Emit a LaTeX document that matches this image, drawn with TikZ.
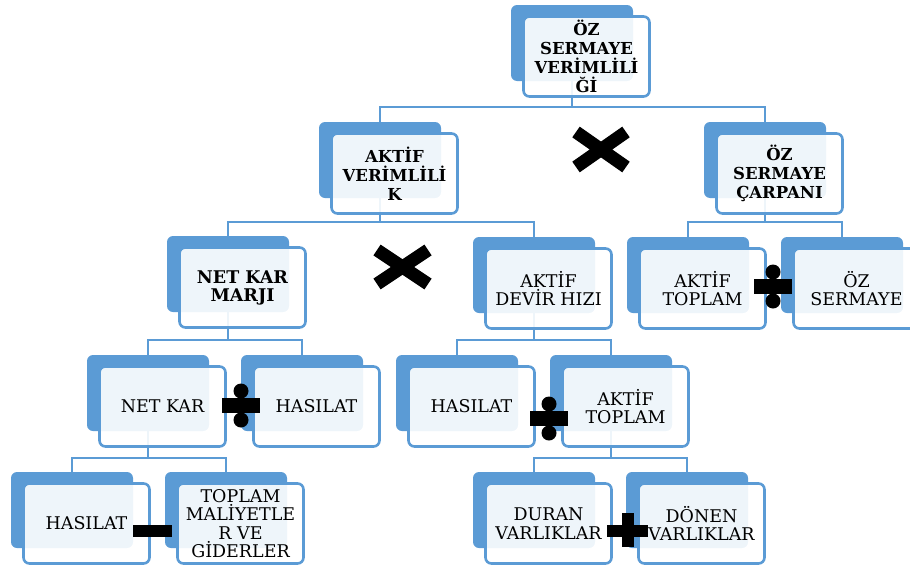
\documentclass[tikz,border=0pt]{standalone}
\usepackage{fontspec}
\setmainfont{DejaVu Serif}
\usetikzlibrary{backgrounds}
\definecolor{accent}{HTML}{5B9BD5}
\tikzset{
  backbox/.style={rectangle, rounded corners=6pt, fill=accent, minimum width=122pt, minimum height=76pt, inner sep=0pt},
  frontbox/.style={rectangle, rounded corners=6pt, draw=accent, line width=2.6pt, fill=white, fill opacity=0.9, text opacity=1, minimum width=126pt, minimum height=80pt, inner sep=0pt, align=center, text=black, xshift=14.5pt, yshift=-13.5pt, font=\fontsize{17.5}{18.5}\selectfont},
  boldsmall/.style={font=\fontsize{16.5}{19}\selectfont\bfseries},
  boldbig/.style={font=\fontsize{17.5}{18}\selectfont\bfseries},
  conn/.style={draw=accent, line width=2.6pt},
  xsign/.style={draw=black, line width=13pt},
}
\newcommand{\divsign}[2]{%
  \fill[black] (#1-19,#2-7.5) rectangle (#1+19,#2+7.5);
  \fill[black] (#1,#2-14.5) circle[radius=7.5pt];
  \fill[black] (#1,#2+14.5) circle[radius=7.5pt];
}
\begin{document}
\begin{tikzpicture}[x=1pt,y=-1pt]
\useasboundingbox (0,0) rectangle (910,565);
% level 0
\node[backbox] (t) at (572,43) {};
\node[frontbox, boldsmall] (tf) at (t) {ÖZ\\SERMAYE\\VERİMLİLİ\\Ğİ};
% level 1
\node[backbox] (av) at (380,160) {};
\node[frontbox, boldsmall] (avf) at (av) {AKTİF\\VERİMLİLİ\\K};
\node[backbox] (oc) at (765,160) {};
\node[frontbox, boldsmall] (ocf) at (oc) {ÖZ\\SERMAYE\\ÇARPANI};
% level 2
\node[backbox] (nkm) at (228,274) {};
\node[frontbox, boldbig] (nkmf) at (nkm) {NET KAR\\MARJI};
\node[backbox] (adh) at (534,275) {};
\node[frontbox] (adhf) at (adh) {AKTİF\\DEVİR HIZI};
\node[backbox] (at1) at (688,275) {};
\node[frontbox] (at1f) at (at1) {AKTİF\\TOPLAM};
\node[backbox] (oz) at (842,275) {};
\node[frontbox] (ozf) at (oz) {ÖZ\\SERMAYE};
% level 3
\node[backbox] (nk) at (148,393) {};
\node[frontbox] (nkf) at (nk) {NET KAR};
\node[backbox] (h1) at (302,393) {};
\node[frontbox] (h1f) at (h1) {HASILAT};
\node[backbox] (h2) at (457,393) {};
\node[frontbox] (h2f) at (h2) {HASILAT};
\node[backbox] (at2) at (611,393) {};
\node[frontbox] (at2f) at (at2) {AKTİF\\TOPLAM};
% level 4
\node[backbox] (h3) at (72,510) {};
\node[frontbox] (h3f) at (h3) {HASILAT};
\node[backbox] (tm) at (226,510) {};
\node[frontbox] (tmf) at (tm) {TOPLAM\\MALİYETLE\\R VE\\GİDERLER};
\node[backbox] (dv) at (534,510) {};
\node[frontbox] (dvf) at (dv) {DURAN\\VARLIKLAR};
\node[backbox] (dn) at (687,510) {};
\node[frontbox] (dnf) at (dn) {DÖNEN\\VARLIKLAR};
% bus levels
\coordinate (b0) at (0,107);
\coordinate (b1) at (0,222);
\coordinate (b2) at (0,340);
\coordinate (b3) at (0,458);
\begin{scope}[on background layer]
\draw[conn] (t.center) -- (t.center|-b0) -| (av.center);
\draw[conn] (t.center|-b0) -| (oc.center);
\draw[conn] (av.center) -- (av.center|-b1) -| (nkm.center);
\draw[conn] (av.center|-b1) -| (adh.center);
\draw[conn] (oc.center) -- (oc.center|-b1) -| (at1.center);
\draw[conn] (oc.center|-b1) -| (oz.center);
\draw[conn] (nkm.center) -- (nkm.center|-b2) -| (nk.center);
\draw[conn] (nkm.center|-b2) -| (h1.center);
\draw[conn] (adh.center) -- (adh.center|-b2) -| (h2.center);
\draw[conn] (adh.center|-b2) -| (at2.center);
\draw[conn] (nk.center) -- (nk.center|-b3) -| (h3.center);
\draw[conn] (nk.center|-b3) -| (tm.center);
\draw[conn] (at2.center) -- (at2.center|-b3) -| (dv.center);
\draw[conn] (at2.center|-b3) -| (dn.center);
\end{scope}
% operator signs
\draw[xsign] (576,132) -- (626,167) (576,167) -- (626,132);
\draw[xsign] (377,250) -- (428,284) (377,284) -- (428,250);
\divsign{241}{405.5}
\divsign{549}{418.5}
\divsign{773}{286.5}
\fill[black] (133,525) rectangle (172,537);
\fill[black] (607,525) rectangle (648,537);
\fill[black] (622,513) rectangle (634,547);
\end{tikzpicture}
\end{document}
